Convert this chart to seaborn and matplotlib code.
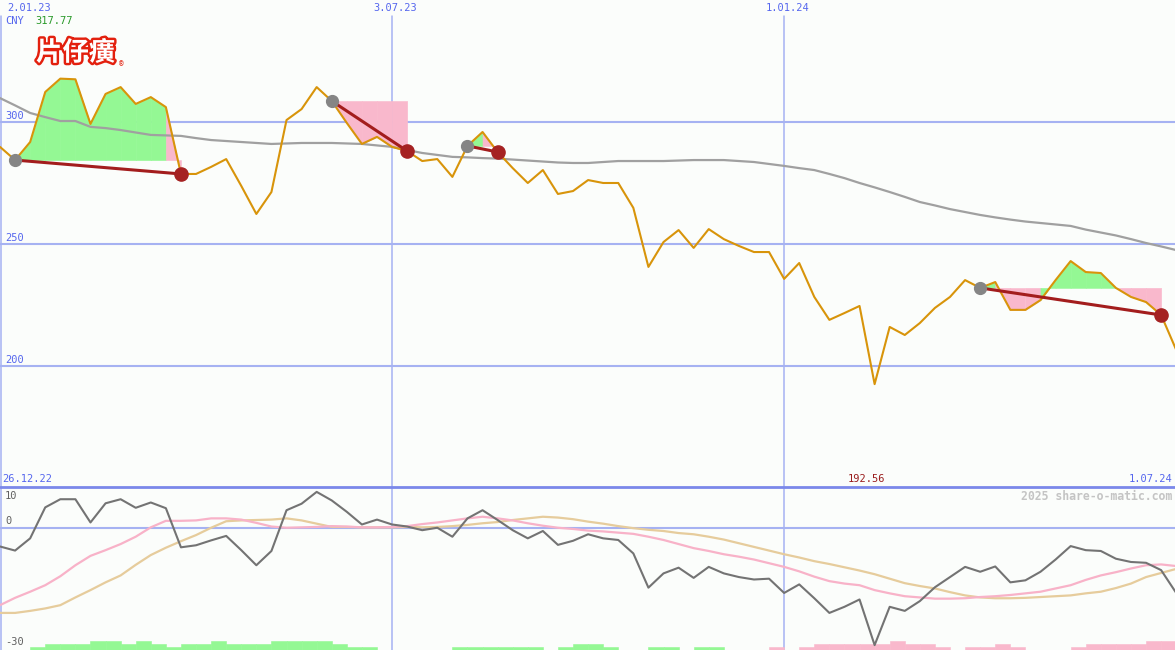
import numpy as np
import pandas as pd
import seaborn as sns
import matplotlib.pyplot as plt
from matplotlib import patheffects

# weekly closes, 2.01.23 .. 1.07.24
weeks = np.arange(79)
price = [289.8, 284.4, 291.8, 312.3, 317.77, 317.5, 299.2, 311.5, 314.3, 307.4,
         310.2, 306.1, 278.7, 278.7, 281.6, 284.8, 273.8, 262.3, 271.3, 300.8,
         305.3, 314.3, 308.6, 299.6, 291.0, 293.9, 289.8, 288.1, 284.0, 284.8,
         277.5, 290.2, 295.9, 287.7, 281.1, 275.0, 280.3, 270.5, 271.7, 276.2,
         275.0, 275.0, 264.8, 240.6, 250.8, 255.7, 248.4, 256.1, 252.0, 249.2,
         246.7, 246.7, 235.7, 242.2, 228.3, 218.9, 221.7, 224.6, 192.56, 216.0,
         212.7, 217.6, 223.8, 228.3, 235.2, 232.0, 234.4, 223.0, 223.0, 227.0,
         235.2, 243.0, 238.5, 238.1, 232.0, 228.3, 226.2, 220.9, 206.6]
ma_line = [309.8, 306.8, 303.7, 302.0, 300.4, 300.4, 298.0, 297.5, 296.7, 295.7,
           294.7, 294.5, 294.3, 293.4, 292.6, 292.2, 291.8, 291.4, 291.0, 291.2,
           291.4, 291.4, 291.4, 291.2, 291.0, 290.4, 289.8, 288.5, 287.3, 286.5,
           285.7, 285.5, 285.2, 285.0, 284.6, 284.2, 283.8, 283.4, 283.2, 283.2,
           283.6, 284.0, 284.0, 284.0, 284.0, 284.2, 284.4, 284.4, 284.4, 284.0,
           283.6, 282.8, 282.0, 281.1, 280.3, 278.7, 277.0, 275.0, 273.2, 271.3,
           269.3, 267.2, 265.8, 264.3, 263.1, 261.9, 260.9, 260.0, 259.2, 258.6,
           258.0, 257.4, 255.9, 254.7, 253.5, 252.0, 250.4, 249.0, 247.5]

# oscillator panel
osc = [-4.6, -5.6, -2.6, 5.0, 7.0, 7.0, 1.3, 6.0, 7.0, 4.9,
       6.2, 4.8, -4.8, -4.3, -3.1, -2.0, -5.5, -9.2, -5.7, 4.3,
       5.9, 8.8, 6.7, 3.9, 0.8, 2.0, 0.8, 0.3, -0.6, 0.0,
       -2.2, 2.3, 4.3, 1.9, -0.6, -2.6, -0.8, -4.2, -3.2, -1.6,
       -2.6, -3.0, -6.3, -14.7, -11.2, -9.8, -12.3, -9.6, -11.2, -12.1,
       -12.7, -12.5, -16.0, -13.9, -17.3, -20.9, -19.4, -17.6, -28.8, -19.4,
       -20.4, -18.0, -14.6, -12.1, -9.6, -10.8, -9.5, -13.4, -12.9, -10.8,
       -7.8, -4.5, -5.5, -5.7, -7.6, -8.4, -8.6, -10.4, -16.0]
sig_fast = [-19.0, -17.2, -15.7, -14.1, -11.9, -9.2, -6.9, -5.5, -4.0, -2.2,
            0.1, 1.7, 1.7, 1.8, 2.3, 2.3, 2.0, 1.2, 0.3, 0.0,
            0.1, 0.2, 0.4, 0.3, 0.1, 0.1, 0.2, 0.4, 0.9, 1.3,
            1.8, 2.3, 2.7, 2.3, 1.8, 1.1, 0.5, 0.0, -0.3, -0.7,
            -0.9, -1.2, -1.5, -2.2, -3.0, -4.0, -5.0, -5.7, -6.5, -7.1,
            -7.8, -8.7, -9.6, -10.7, -12.0, -13.1, -13.7, -14.1, -15.3, -16.1,
            -16.8, -17.1, -17.4, -17.4, -17.3, -17.0, -16.8, -16.5, -16.1, -15.7,
            -14.9, -14.1, -12.8, -11.7, -10.9, -10.0, -9.2, -9.0, -9.4]
sig_slow = [-20.9, -20.9, -20.4, -19.8, -19.0, -17.1, -15.3, -13.4, -11.7, -9.1,
            -6.7, -4.9, -3.3, -1.8, 0.0, 1.6, 1.8, 1.9, 2.0, 2.3,
            1.8, 1.0, 0.2, 0.2, 0.1, 0.1, 0.1, 0.2, 0.1, 0.2,
            0.4, 0.7, 1.1, 1.4, 1.9, 2.3, 2.7, 2.5, 2.1, 1.5,
            1.0, 0.4, -0.1, -0.5, -0.8, -1.3, -1.6, -2.2, -2.9, -3.8,
            -4.7, -5.6, -6.5, -7.3, -8.2, -8.9, -9.7, -10.5, -11.4, -12.5,
            -13.6, -14.3, -14.9, -15.8, -16.6, -17.1, -17.3, -17.3, -17.2, -17.0,
            -16.8, -16.6, -16.1, -15.7, -14.8, -13.7, -12.1, -11.1, -10.1]
# histogram steps at the bottom (+ green, - pink)
hist_lvl = [0, 0, 1, 2, 2, 2, 3, 3, 2, 3,
            2, 1, 2, 2, 3, 2, 2, 2, 3, 3,
            3, 3, 2, 1, 1, 0, 0, 0, 0, 0,
            1, 1, 1, 1, 1, 1, 0, 1, 2, 2,
            1, 0, 0, 1, 1, 0, 1, 1, 0, 0,
            0, -1, 0, -1, -2, -2, -2, -2, -2, -3,
            -2, -2, -1, 0, -1, -1, -2, -1, 0, 0,
            0, -1, -2, -2, -2, -2, -3, -3]

# divergence segments (start week, end week)
div_start = [1, 22, 31, 65]
div_end = [12, 27, 33, 77]

date_pos = [0, 26, 52]
date_labels = ['2.01.23', '3.07.23', '1.01.24']
price_ticks = [300, 250, 200]
osc_ticks = [10, 0, -30]

BLUE = '#5566ee'
GRID = '#a6b2f2'
GREEN_F = '#94f894'
PINK_F = '#f9b8cc'
BG = '#fbfdfb'

sns.set_style('white')
plt.rcParams['font.family'] = ['DejaVu Sans Mono', 'Noto Sans CJK SC']

W, H = 1175, 650
fig = plt.figure(figsize=(W / 100, H / 100), dpi=100, facecolor=BG)
ax = fig.add_axes([0, 163 / H, 1, 487 / H])
ax2 = fig.add_axes([0, 0, 1, 163 / H])
for a in (ax, ax2):
    a.set_axis_off()
    a.set_xlim(0, 77.92)
ax.set_ylim(150.4, 350)
ax2.set_ylim(-30, 10)


def px(x, y):
    return x / W, 1 - y / H


# --- top panel grid
for v in price_ticks:
    ax.axhline(v, color=GRID, lw=1.5, zorder=1)
    ax.annotate(str(v), xy=(0, v), xycoords=('axes fraction', 'data'),
                xytext=(5, 1), textcoords='offset pixels', va='bottom',
                color=BLUE, fontsize=7.5)
for d in date_pos:
    ax.axvline(d + (0.07 if d == 0 else 0), ymax=0.967, color=GRID, lw=1.1, zorder=1)

# --- divergence fills
for s, e in zip(div_start, div_end):
    lvl = price[s]
    for i in range(s, e):
        col = GREEN_F if price[i + 1] >= lvl else PINK_F
        ax.fill_between([i, i + 1], [lvl, lvl], [price[i], price[i + 1]],
                        facecolor=col, edgecolor=col, lw=0.4, zorder=2)

df = pd.DataFrame({'week': weeks, 'price': price, 'ma': ma_line})
sns.lineplot(data=df, x='week', y='ma', ax=ax, color='#a0a0a0', lw=1.6, zorder=3)
sns.lineplot(data=df, x='week', y='price', ax=ax, color='#d8940a', lw=1.5, zorder=4)

for s, e in zip(div_start, div_end):
    ax.plot([s, e], [price[s], price[e]], color='#a31d1d', lw=2.2, zorder=5,
            solid_capstyle='butt')
    ax.plot(s, price[s], 'o', color='#858585', ms=8.5, zorder=6)
    ax.plot(e, price[e], 'o', color='#a52222', ms=9.5, zorder=6)

# --- bottom panel
ax2.axhline(0, color=GRID, lw=1.5, zorder=1)
for d in date_pos:
    ax2.axvline(d + (0.07 if d == 0 else 0), color=GRID, lw=1.1, zorder=1)
ax2.axhline(10, color='#7b88ea', lw=2, zorder=6, clip_on=False)

hist_h = [abs(h) * 0.74 for h in hist_lvl]
hist_c = [GREEN_F if h > 0 else PINK_F for h in hist_lvl]
ax2.bar(weeks[:-1], hist_h, width=1, align='edge', bottom=-30, color=hist_c,
        edgecolor=hist_c, lw=0.4, zorder=2)

df2 = pd.DataFrame({'week': weeks, 'osc': osc, 'fast': sig_fast, 'slow': sig_slow})
sns.lineplot(data=df2, x='week', y='slow', ax=ax2, color='#e6cc9c', lw=1.6, zorder=3)
sns.lineplot(data=df2, x='week', y='fast', ax=ax2, color='#f8b2c8', lw=1.6, zorder=3)
sns.lineplot(data=df2, x='week', y='osc', ax=ax2, color='#737373', lw=1.5, zorder=4)
for a in (ax, ax2):
    a.set_axis_off()

for v, yy in zip(osc_ticks, [496, 521, 642]):
    fig.text(*px(5, yy), str(v), color='#606060', fontsize=7.5, va='center')

# --- labels
fig.text(*px(7, 8), date_labels[0], color=BLUE, fontsize=7.5, va='center')
for d, lab in zip(date_pos[1:], date_labels[1:]):
    fig.text(*px(d * 15.08 + 3, 8), lab, color=BLUE, fontsize=7.5, va='center', ha='center')
fig.text(*px(5, 21), 'CNY', color=BLUE, fontsize=7.5, va='center')
fig.text(*px(35, 21), f'{max(price):.2f}', color='#2a9a2a', fontsize=7.5, va='center')
fig.text(*px(2, 479), '26.12.22', color=BLUE, fontsize=7.5, va='center')
fig.text(*px(866, 479), f'{min(price):.2f}', color='#9a1c1c', fontsize=7.5,
         va='center', ha='center')
fig.text(*px(1172, 479), '1.07.24', color=BLUE, fontsize=7.5, va='center', ha='right')
fig.text(*px(1172, 496), '2025 share-o-matic.com', color='#c4c4c4', fontsize=8.3,
         va='center', ha='right', weight='bold')

logo = fig.text(*px(36, 53), '片仔癀', color='white', fontsize=19,
                family=['Noto Sans CJK SC'], weight='bold', va='center')
logo.set_path_effects([patheffects.withStroke(linewidth=3.5, foreground='#e3200e')])
fig.text(*px(119, 64), '®', color='#e3200e', fontsize=5.5, va='center')

fig.savefig('out.png', dpi=100, facecolor=BG)
